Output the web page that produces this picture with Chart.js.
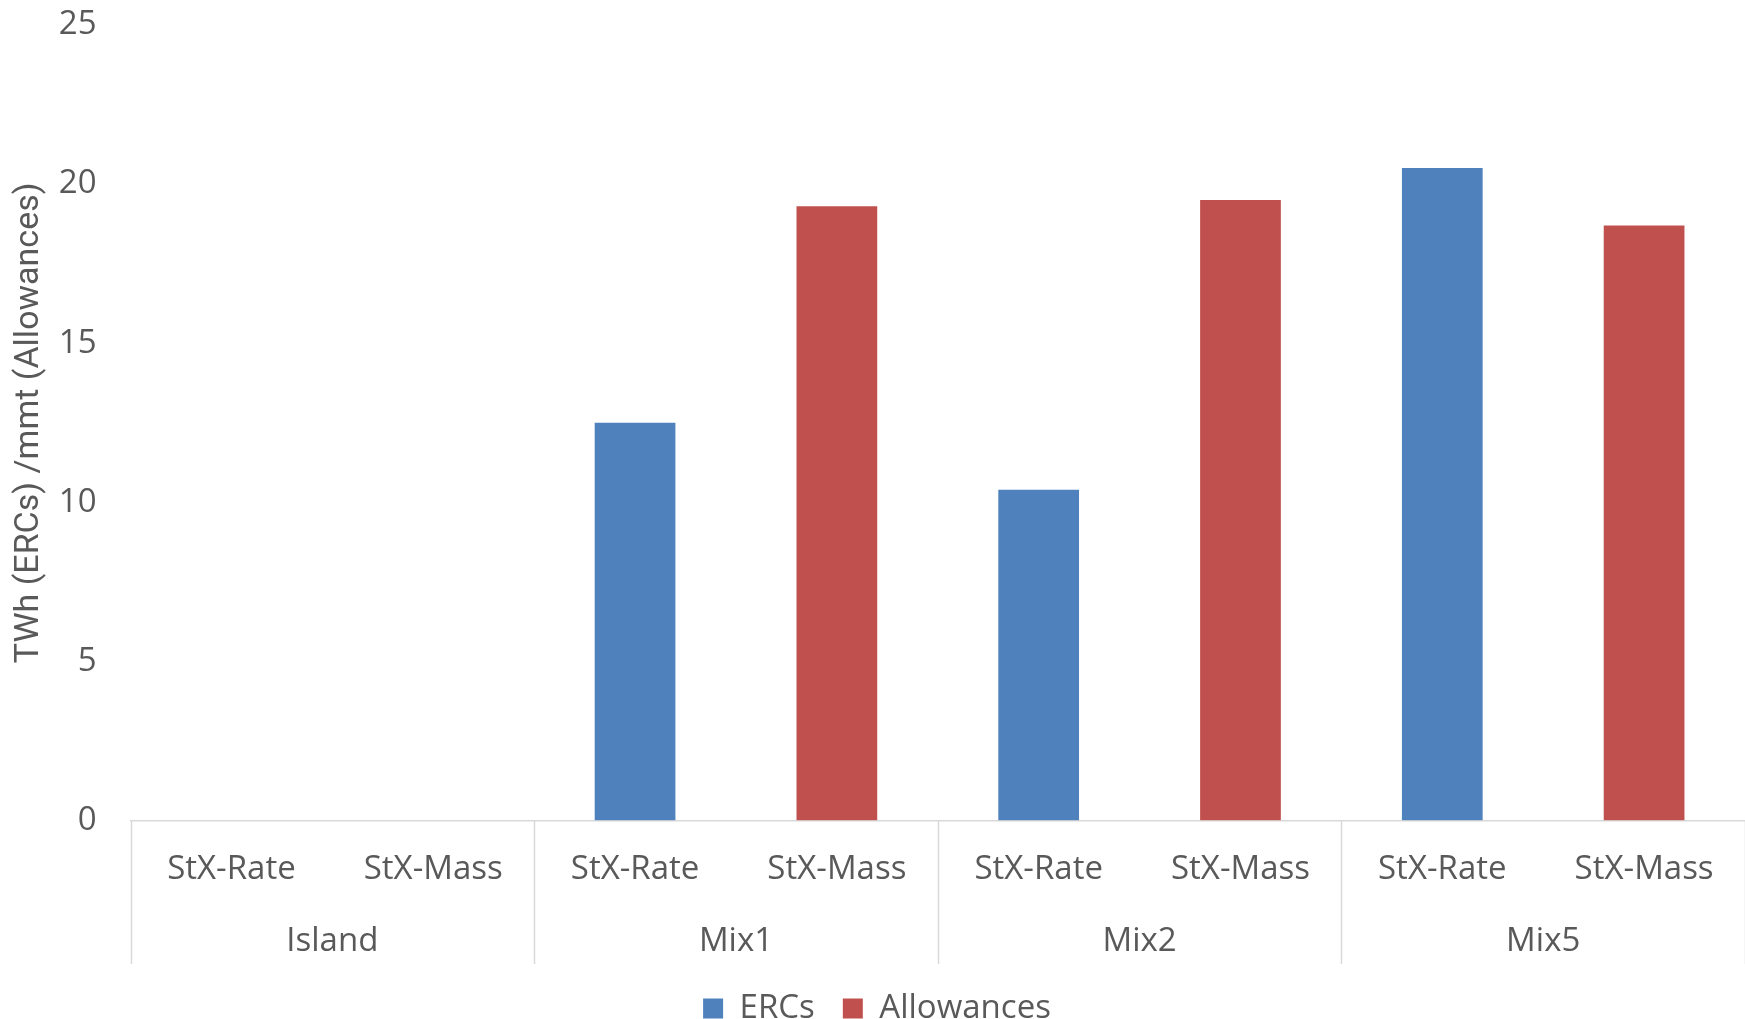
<!DOCTYPE html>
<html>
<head>
<meta charset="utf-8">
<script src="https://cdn.jsdelivr.net/npm/chart.js@4/dist/chart.umd.min.js"></script>
<style>
  html, body { margin: 0; padding: 0; background: #fff; }
  #wrap { width: 1745px; height: 1019px; }
</style>
</head>
<body>
<div id="wrap"><canvas id="chart"></canvas></div>
<script>
// Data
const scenarios = ["StX-Rate", "StX-Mass", "StX-Rate", "StX-Mass", "StX-Rate", "StX-Mass", "StX-Rate", "StX-Mass"];
const groups = ["Island", "Mix1", "Mix2", "Mix5"];
const ercs = [null, null, 12.5, null, 10.4, null, 20.5, null];
const allowances = [null, null, null, 19.3, null, 19.5, null, 18.7];
const yTicks = [0, 5, 10, 15, 20, 25];

const textColor = "#595959";
const lineColor = "#d9d9d9";
const tickFont = { family: "'Open Sans', sans-serif", size: 33 };

// vertical separators between the groups, from the axis line down to the group labels
const groupLines = {
  id: "groupLines",
  afterDraw(chart) {
    const x = chart.scales.x;
    const x2 = chart.scales.x2;
    const ctx = chart.ctx;
    const step = (x.right - x.left) / scenarios.length;
    ctx.save();
    ctx.strokeStyle = lineColor;
    ctx.lineWidth = 1.5;
    for (let i = 0; i <= scenarios.length; i += 2) {
      const px = Math.round(x.left + i * step) + 0.5;
      ctx.beginPath();
      ctx.moveTo(px, x.top);
      ctx.lineTo(px, x2.bottom);
      ctx.stroke();
    }
    ctx.restore();
  },
};

let myChart = new Chart(document.getElementById("chart"), {
  type: "bar",
  data: {
    labels: scenarios,
    datasets: [
      {
        label: "ERCs",
        data: ercs,
        backgroundColor: "#4F81BD",
      },
      {
        label: "Allowances",
        data: allowances,
        backgroundColor: "#C0504D",
      },
    ],
  },
  options: {
    responsive: true,
    maintainAspectRatio: false,
    animation: false,
    layout: {
      autoPadding: false,
      padding: { top: 22, right: 0, left: 9, bottom: -16 },
    },
    datasets: {
      bar: { grouped: false, barPercentage: 0.4, categoryPercentage: 1 },
    },
    plugins: {
      legend: {
        position: "bottom",
        labels: {
          color: textColor,
          font: tickFont,
          boxWidth: 20,
          boxHeight: 20,
          padding: 28,
        },
      },
      tooltip: { enabled: false },
    },
    scales: {
      x: {
        grid: { display: false },
        border: { display: true, color: lineColor, width: 1.5 },
        ticks: { color: textColor, font: tickFont, padding: 21, maxRotation: 0 },
      },
      x2: {
        type: "category",
        labels: groups,
        position: "bottom",
        grid: { display: false },
        border: { display: false },
        ticks: { color: textColor, font: tickFont, padding: 3, maxRotation: 0 },
      },
      y: {
        min: 0,
        max: 25,
        afterBuildTicks: (axis) => {
          axis.ticks = yTicks.map((v) => ({ value: v }));
        },
        // invisible tick marks just keep the labels away from the plot
        grid: { display: true, drawOnChartArea: false, drawTicks: true, tickLength: 29, color: "rgba(0,0,0,0)" },
        border: { display: false },
        ticks: { color: textColor, font: tickFont, padding: 5 },
        title: {
          display: true,
          text: "TWh (ERCs) /mmt (Allowances)",
          color: textColor,
          font: { family: "Roboto, sans-serif", size: 34 },
          padding: { top: 0, bottom: 4 },
        },
      },
    },
  },
  plugins: [groupLines],
});
</script>
</body>
</html>
